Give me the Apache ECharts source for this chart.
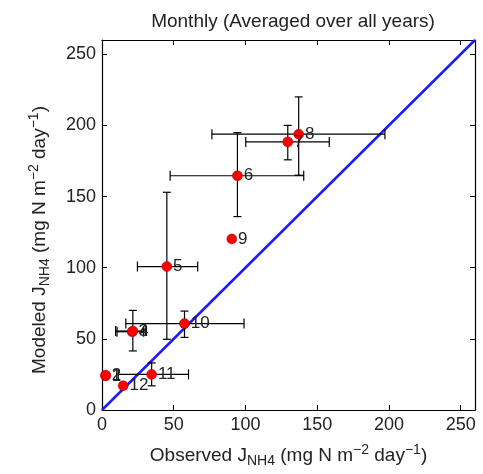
<!DOCTYPE html>
<html>
<head>
<meta charset="utf-8">
<script src="https://cdn.jsdelivr.net/npm/echarts@6/dist/echarts.min.js"></script>
<style>html,body{margin:0;padding:0;background:#fff;}#c{width:483px;height:474px;}</style>
</head>
<body>
<div id="c"></div>
<script>
var months = ['1','2','3','4','5','6','7','8','9','10','11','12'];
var observed = [2.5, 2.5, 21, 21.5, 45.2, 94.4, 129.5, 137.1, 90.5, 57.5, 34.6, 14.8];
var modeled  = [24, 24.5, 55, 55.5, 100.8, 164.6, 188.4, 193.8, 120.2, 60.7, 25, 17];
var obsLow   = [2.5, 2.5, 10.5, 9.5, 24.7, 47.5, 100.2, 76.6, 90.5, 16.6, 11.3, 14.8];
var obsHigh  = [2.5, 2.5, 29, 31, 66.7, 140.6, 158.4, 197.2, 90.5, 99, 60.3, 14.8];
var modLow   = [24, 24.5, 55, 41.5, 49.7, 135.9, 175.8, 165, 120.2, 51, 17, 17];
var modHigh  = [24, 24.5, 55, 70, 153, 194.9, 200, 220, 120.2, 69.5, 33.1, 17];
var oneToOne = [[0, 0], [260, 260]];

var FONT = 'Liberation Sans, Arial, sans-serif';
var chart = echarts.init(document.getElementById('c'), null, {renderer: 'canvas'});

var errData = months.map(function (m, i) {
  return [observed[i], modeled[i], obsLow[i], obsHigh[i], modLow[i], modHigh[i]];
});

function renderErr(params, api) {
  var x = api.value(0), y = api.value(1);
  var xl = api.value(2), xh = api.value(3), yl = api.value(4), yh = api.value(5);
  var children = [];
  var hcap = 5, vcap = 4;
  var st = {stroke: '#000', lineWidth: 1.2, fill: null};
  if (xh > xl) {
    var a = api.coord([xl, y]), b = api.coord([xh, y]);
    children.push({type: 'line', shape: {x1: a[0], y1: a[1], x2: b[0], y2: b[1]}, style: st});
    children.push({type: 'line', shape: {x1: a[0], y1: a[1] - hcap, x2: a[0], y2: a[1] + hcap}, style: st});
    children.push({type: 'line', shape: {x1: b[0], y1: b[1] - hcap, x2: b[0], y2: b[1] + hcap}, style: st});
  }
  if (yh > yl) {
    var c = api.coord([x, yl]), d = api.coord([x, yh]);
    children.push({type: 'line', shape: {x1: c[0], y1: c[1], x2: d[0], y2: d[1]}, style: st});
    children.push({type: 'line', shape: {x1: c[0] - vcap, y1: c[1], x2: c[0] + vcap, y2: c[1]}, style: st});
    children.push({type: 'line', shape: {x1: d[0] - vcap, y1: d[1], x2: d[0] + vcap, y2: d[1]}, style: st});
  }
  return {type: 'group', children: children};
}

var axisCommon = {
  type: 'value', min: 0, max: 260, interval: 50,
  axisLine: {show: true, onZero: false, lineStyle: {color: '#000', width: 1.2}},
  axisTick: {show: true, inside: true, length: 5, lineStyle: {color: '#000'}},
  splitLine: {show: false}
};

var rich = {
  base: {fontSize: 19, color: '#222', fontFamily: FONT},
  sub: {fontSize: 14, color: '#222', fontFamily: FONT, padding: [11, 0, 0, 0]},
  sup: {fontSize: 14, color: '#222', fontFamily: FONT, padding: [0, 0, 10, 0]}
};

var option = {
  backgroundColor: '#fff',
  animation: false,
  title: {
    text: 'Monthly (Averaged over all years)',
    left: 288, top: 7, textAlign: 'center',
    textStyle: {fontSize: 19, fontWeight: 'normal', color: '#222', fontFamily: FONT}
  },
  grid: {left: 102, right: 8, top: 40, bottom: 64, containLabel: false},
  xAxis: [
    Object.assign({}, axisCommon, {
      position: 'bottom',
      axisLabel: {color: '#222', fontSize: 18, fontFamily: FONT, margin: 6},
      name: '{base|Observed J}{sub|NH4}{base| (mg N m}{sup|\u22122}{base| day}{sup|\u22121}{base|)}',
      nameLocation: 'middle', nameGap: 33,
      nameTextStyle: {rich: rich}
    }),
    Object.assign({}, axisCommon, {position: 'top', axisLabel: {show: false}})
  ],
  yAxis: [
    Object.assign({}, axisCommon, {
      position: 'left',
      axisLabel: {color: '#222', fontSize: 18, fontFamily: FONT, margin: 6},
      name: '{base|Modeled J}{sub|NH4}{base| (mg N m}{sup|\u22122}{base| day}{sup|\u22121}{base|)}',
      nameLocation: 'middle', nameGap: 50,
      nameTextStyle: {rich: rich, padding: [0, 30, 0, 0]}
    }),
    Object.assign({}, axisCommon, {position: 'right', axisLabel: {show: false}})
  ],
  series: [
    {
      type: 'line', data: oneToOne, xAxisIndex: 0, yAxisIndex: 0,
      showSymbol: false, lineStyle: {color: '#1a1aff', width: 2.5}, z: 2
    },
    {
      type: 'custom', data: errData, renderItem: renderErr, xAxisIndex: 0, yAxisIndex: 0, z: 3
    },
    {
      type: 'scatter', xAxisIndex: 0, yAxisIndex: 0, z: 4,
      data: months.map(function (m, i) { return {value: [observed[i], modeled[i]], name: m}; }),
      symbol: 'circle', symbolSize: 10,
      itemStyle: {color: '#ff0000', borderColor: '#aa0000', borderWidth: 0.5, opacity: 1},
      label: {
        show: true, position: 'right', distance: 1,
        formatter: function (p) { return p.name; },
        color: '#222', fontSize: 17, fontFamily: FONT
      }
    }
  ]
};
chart.setOption(option);
</script>
</body>
</html>
